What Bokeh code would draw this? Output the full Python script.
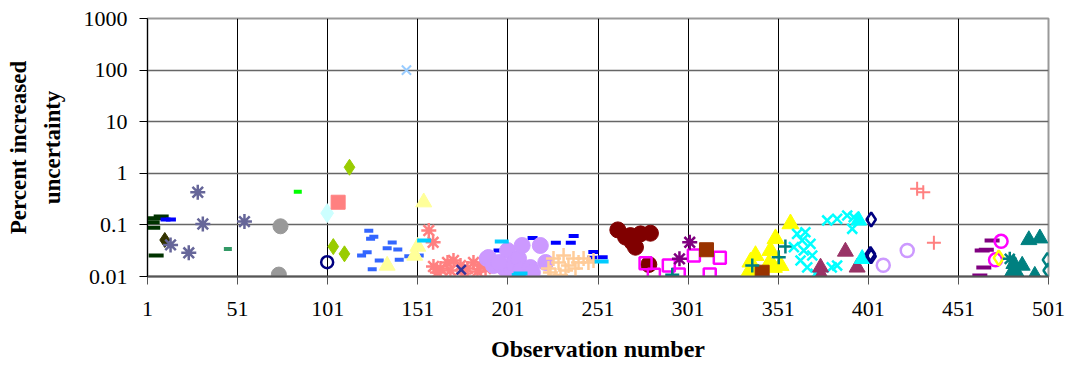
from bokeh.plotting import figure
from bokeh.models import Range1d, FixedTicker, CustomJSTickFormatter
from bokeh.embed import file_html
from bokeh.resources import INLINE

# ---- axis ticks ----
x_ticks = [1, 51, 101, 151, 201, 251, 301, 351, 401, 451, 501]
y_ticks = [0.01, 0.1, 1, 10, 100, 1000]

# ---- series data (observation number, percent increased uncertainty) ----
dkgreen_x = [8.6, 5.4, 3.6, 3.9, 5.8]
dkgreen_y = [0.145, 0.135, 0.113, 0.088, 0.0255]

blue_x = [11.0, 14.0, 195.8, 214.7, 227.6, 235.9, 237.5, 248.4, 247.7, 253.6]
blue_y = [0.127, 0.127, 0.032, 0.056, 0.045, 0.045, 0.061, 0.030, 0.023, 0.0235]

olive_x = [10.6]
olive_y = [0.051]

slate_x = [28.9, 31.7, 54.8, 13.8, 23.9]
slate_y = [0.43, 0.104, 0.116, 0.041, 0.0288]

seagreen_x = [45.6]
seagreen_y = [0.034]

green_x = [84.4]
green_y = [0.44]

gray_x = [74.8, 73.9]
gray_y = [0.094, 0.0109]

ltcyan_x = [100.7]
ltcyan_y = [0.169]

navycirc_x = [100.7]
navycirc_y = [0.0189]

yg_x = [113.1, 104.1, 110.3]
yg_y = [1.31, 0.038, 0.0275]

salmonsq_x = [106.8]
salmonsq_y = [0.275]

royal_x = [123.8, 126.6, 124.8, 136.8, 134.0, 139.9, 122.9, 119.8, 129.6, 140.7, 146.0, 151.8, 125.7]
royal_y = [0.077, 0.0587, 0.0538, 0.0456, 0.0353, 0.0333, 0.0296, 0.0255, 0.0204, 0.0211, 0.0247, 0.0255, 0.0138]

ltyellow_x = [154.3, 151.0, 149.3, 134.0]
ltyellow_y = [0.275, 0.038, 0.0255, 0.0163]

ltblue_x = [144.7]
ltblue_y = [100.0]

salmonast_x = [157.1, 159.5, 159.7, 163.6, 167.5, 170.8, 174.7, 178.6, 181.9, 185.8,
               161.9, 169.1, 176.4, 184.1, 188.6]
salmonast_y = [0.078, 0.046, 0.0156, 0.0143, 0.0187, 0.0204, 0.0163, 0.0143, 0.0187, 0.0163,
               0.012, 0.0131, 0.0114, 0.0125, 0.0143]

dkbluex_x = [175.1]
dkbluex_y = [0.0135]

lavender_x = [189.5, 190.2, 193.0, 198.6, 200.8, 201.3, 202.4, 204.1, 206.9, 208.0,
              208.9, 213.5, 214.6, 219.0, 222.0, 196.0]
lavender_y = [0.0223, 0.0233, 0.0163, 0.0149, 0.0319, 0.012, 0.0149, 0.0179, 0.0223, 0.0131,
              0.0399, 0.0149, 0.012, 0.0399, 0.0187, 0.0187]

peach_x = [223.5, 226.3, 229.1, 231.9, 234.6, 237.4, 240.2, 243.0, 245.7, 248.5,
           227.4, 233.0, 238.5, 224.6, 230.2]
peach_y = [0.0143, 0.0223, 0.0187, 0.0255, 0.0163, 0.0223, 0.0187, 0.0223, 0.0187, 0.0204,
           0.0104, 0.0131, 0.0143, 0.012, 0.0107]

cyandash_x = [154.5, 197.6, 253.0, 207.0, 208.0]
cyandash_y = [0.05, 0.0476, 0.0195, 0.0107, 0.0114]

darkred_x = [262.0, 269.0, 274.6, 280.1, 271.8, 270.0, 279.2, 266.3]
darkred_y = [0.080, 0.062, 0.067, 0.069, 0.037, 0.046, 0.0171, 0.058]

magsq_x = [277.4, 282.0, 290.3, 295.8, 304.2, 318.6, 313.0]
magsq_y = [0.0181, 0.0108, 0.0163, 0.0109, 0.0255, 0.023, 0.0109]

purpleast_x = [301.9, 296.2]
purpleast_y = [0.046, 0.022]

yellow_x = [338.4, 334.7, 349.5, 346.7, 345.8, 352.3, 357.8, 335.6, 348.6, 338.4]
yellow_y = [0.0255, 0.0121, 0.054, 0.0319, 0.0176, 0.0163, 0.105, 0.019, 0.015, 0.0121]

brown_x = [311.2, 342.1]
brown_y = [0.033, 0.0121]

tealplus_x = [292.2, 336.6, 351.3, 355.0]
tealplus_y = [0.0108, 0.0163, 0.0237, 0.038]

cyanx_x = [361.5, 366.1, 364.3, 368.9, 365.2, 369.9, 363.4, 367.1, 371.7, 378.2,
           383.7, 389.3, 392.9, 392.1, 380.7, 383.7, 359.7]
cyanx_y = [0.067, 0.072, 0.050, 0.043, 0.0319, 0.0255, 0.0204, 0.015, 0.0113, 0.122,
           0.131, 0.152, 0.141, 0.084, 0.015, 0.0163, 0.037]

maroon_x = [388.3, 374.5, 374.9, 394.8]
maroon_y = [0.0305, 0.015, 0.0105, 0.015]

cyantri_x = [395.7, 397.6]
cyantri_y = [0.122, 0.022]

navydia_x = [402.6, 402.2, 402.6]
navydia_y = [0.127, 0.0275, 0.0245]

lavopen_x = [409.3, 422.6]
lavopen_y = [0.0165, 0.0319]

salmonplus_x = [428.1, 431.5, 437.4]
salmonplus_y = [0.50, 0.43, 0.045]

purpledash_x = [469.7, 464.2, 465.1, 462.9, 466.5]
purpledash_y = [0.050, 0.0319, 0.015, 0.0104, 0.033]

magcirc_x = [474.7, 471.6]
magcirc_y = [0.048, 0.021]

yeldia_x = [473.4]
yeldia_y = [0.023]

tealast_x = [479.5]
tealast_y = [0.022]

tealtri_x = [490.1, 496.2, 481.8, 486.4, 480.8, 483.6, 493.4]
tealtri_y = [0.051, 0.055, 0.0176, 0.0163, 0.0121, 0.0113, 0.0104]

tealdia_x = [500.4, 500.8]
tealdia_y = [0.021, 0.0131]

FONT = "Liberation Serif"

p = figure(width=1065, height=369,
           x_range=Range1d(1, 501), y_range=Range1d(0.01, 1000),
           y_axis_type="log", output_backend="svg", toolbar_location=None,
           min_border_left=147, min_border_right=17, min_border_top=18,
           min_border_bottom=93)
p.background_fill_color = "white"
p.border_fill_color = "white"
p.outline_line_color = "#999999"
p.outline_line_width = 2

# axes
p.xaxis.ticker = FixedTicker(ticks=x_ticks)
p.yaxis.ticker = FixedTicker(ticks=y_ticks)
p.yaxis.formatter = CustomJSTickFormatter(
    code="return tick >= 1 ? tick.toFixed(0) : String(parseFloat(tick.toPrecision(1)));")
p.axis.major_label_text_font = FONT
p.axis.major_label_text_font_size = "22px"
p.axis.major_label_text_color = "black"
p.axis.axis_label_text_font = FONT
p.axis.axis_label_text_font_style = "bold"
p.axis.axis_label_text_color = "black"
p.axis.minor_tick_line_color = None
p.axis.major_tick_in = 0
p.axis.major_tick_out = 8

p.xaxis.axis_label = "Observation number"
p.xaxis.axis_label_text_font_size = "24px"
p.xaxis.axis_line_color = "#555555"
p.xaxis.axis_line_width = 2
p.xaxis.major_tick_line_color = "#555555"
p.xaxis.major_label_standoff = 17
p.xaxis.axis_label_standoff = 17

p.yaxis.axis_label = "Percent increased\nuncertainty"
p.yaxis.axis_label_text_font_size = "23px"
p.yaxis.axis_label_text_line_height = 1.35
p.yaxis.axis_line_color = "black"
p.yaxis.major_tick_line_color = "black"
p.yaxis.major_label_standoff = 12
p.yaxis.axis_label_standoff = 16

# grids
p.xgrid.ticker = FixedTicker(ticks=x_ticks)
p.xgrid.grid_line_color = "black"
p.xgrid.grid_line_width = 1
p.ygrid.ticker = FixedTicker(ticks=y_ticks)
p.ygrid.grid_line_color = "#666666"
p.ygrid.grid_line_width = 1.5


def filled(x, y, marker, color, size):
    p.scatter(x, y, marker=marker, size=size, fill_color=color, line_color=color, line_width=1)


def lined(x, y, marker, color, size, lw=2):
    p.scatter(x, y, marker=marker, size=size, fill_color=None, line_color=color, line_width=lw)


lined(dkgreen_x, dkgreen_y, "dash", "#003300", 15, 4)
lined(blue_x, blue_y, "dash", "#0000FF", 10, 4)
filled(olive_x, olive_y, "diamond", "#333300", 15)
lined(slate_x, slate_y, "asterisk", "#666699", 15, 2.5)
lined(seagreen_x, seagreen_y, "dash", "#339966", 8, 4)
lined(green_x, green_y, "dash", "#00FF00", 8, 4)
filled(gray_x, gray_y, "circle", "#999999", 15)
filled(ltcyan_x, ltcyan_y, "diamond", "#CCFFFF", 19)
lined(navycirc_x, navycirc_y, "circle", "#000080", 12, 2.5)
filled(yg_x, yg_y, "diamond", "#99CC00", 16)
filled(salmonsq_x, salmonsq_y, "square", "#FF8080", 14)
lined(royal_x, royal_y, "dash", "#3366FF", 9, 4)
filled(ltyellow_x, ltyellow_y, "triangle", "#FFFF99", 16)
lined(ltblue_x, ltblue_y, "x", "#99CCFF", 13, 2)
lined(salmonast_x, salmonast_y, "asterisk", "#FF8080", 15, 2.5)
lined(dkbluex_x, dkbluex_y, "x", "#333399", 13, 2.5)
filled(lavender_x, lavender_y, "circle", "#CC99FF", 16)
lined(peach_x, peach_y, "cross", "#FFCC99", 15, 2.5)
lined(cyandash_x, cyandash_y, "dash", "#00CCFF", 14, 4)
filled(darkred_x, darkred_y, "circle", "#800000", 16)
lined(magsq_x, magsq_y, "square", "#FF00FF", 12, 2.5)
lined(purpleast_x, purpleast_y, "asterisk", "#800080", 15, 2.5)
filled(yellow_x, yellow_y, "triangle", "#FFFF00", 17)
filled(brown_x, brown_y, "square", "#993300", 14)
lined(tealplus_x, tealplus_y, "cross", "#008080", 14, 2.5)
lined(cyanx_x, cyanx_y, "x", "#00FFFF", 14, 2.5)
filled(maroon_x, maroon_y, "triangle", "#993366", 16)
filled(cyantri_x, cyantri_y, "triangle", "#00FFFF", 16)
lined(navydia_x, navydia_y, "diamond", "#000080", 14, 2.5)
lined(lavopen_x, lavopen_y, "circle", "#CC99FF", 13, 2.5)
lined(salmonplus_x, salmonplus_y, "cross", "#FF8080", 14, 2)
lined(purpledash_x, purpledash_y, "dash", "#800080", 15, 4)
lined(magcirc_x, magcirc_y, "circle", "#FF00FF", 13, 2.5)
lined(yeldia_x, yeldia_y, "diamond", "#FFFF00", 15, 2.5)
lined(tealast_x, tealast_y, "asterisk", "#008080", 14, 2.5)
filled(tealtri_x, tealtri_y, "triangle", "#008080", 16)
lined(tealdia_x, tealdia_y, "diamond", "#008080", 14, 2.5)

open("out.html", "w").write(file_html(p, INLINE))
